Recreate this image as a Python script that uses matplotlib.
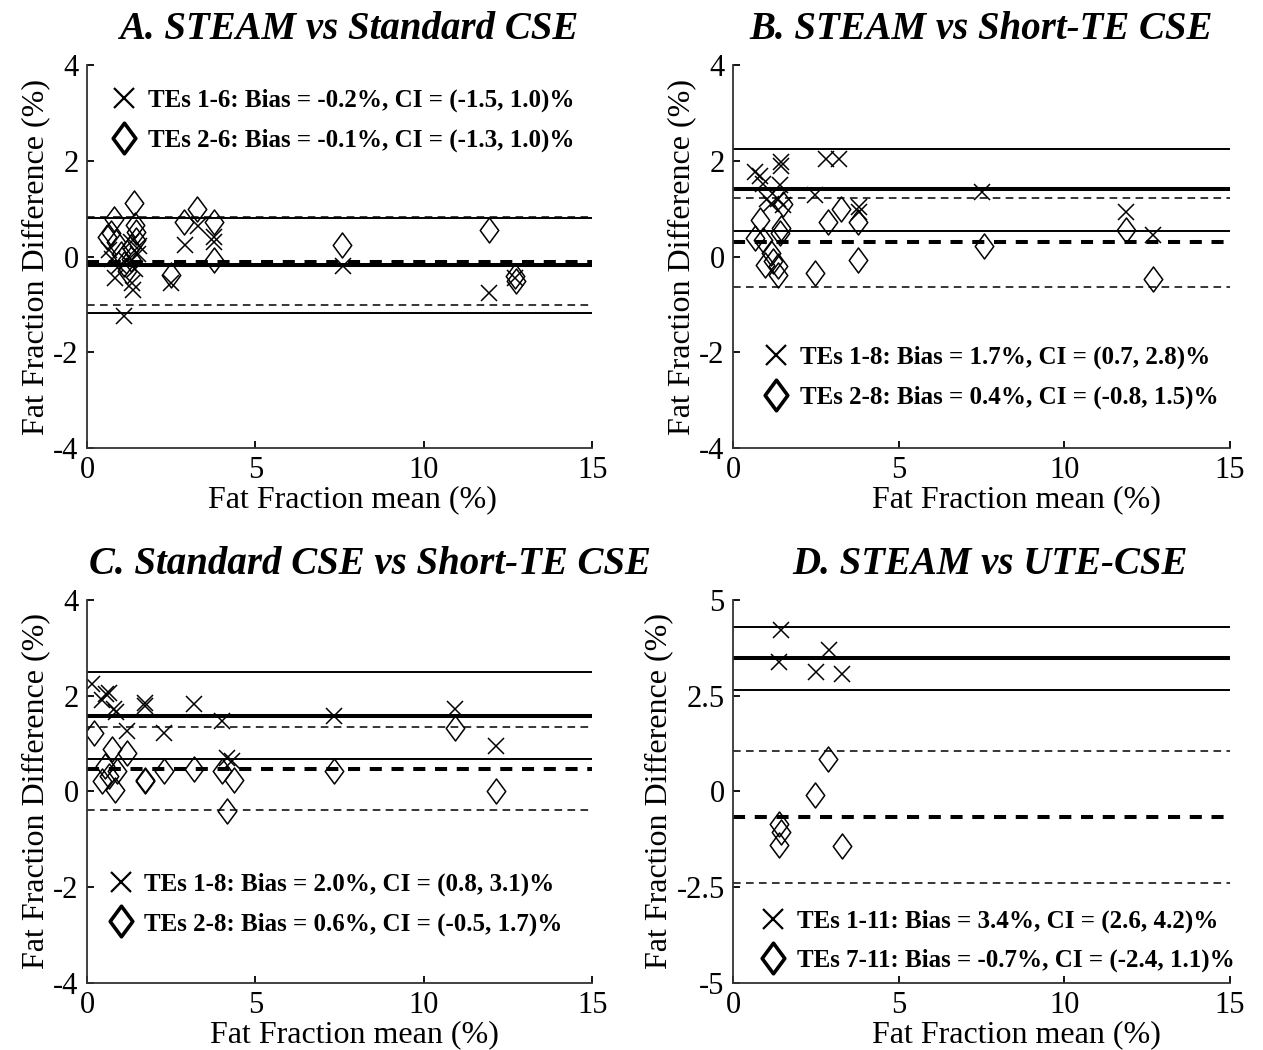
import matplotlib
matplotlib.use('Agg')
import matplotlib.pyplot as plt
from matplotlib.lines import Line2D
from matplotlib.path import Path

plt.rcParams['font.family'] = ['Liberation Serif', 'DejaVu Serif']

# A. STEAM vs Standard CSE
a_mean1 = [0.64, 0.75, 0.84, 0.95, 1.09, 1.2, 1.3, 1.35, 1.38, 1.43, 1.5, 1.53,
           2.5, 2.9, 3.3, 3.78, 3.78, 7.6, 11.93, 12.7]
a_diff1 = [0.14, -0.05, -0.44, -0.2, -1.24, -0.1, 0.3, -0.55, -0.69, -0.27, 0.05, 0.21,
           -0.56, 0.25, 0.64, 0.4, 0.3, -0.2, -0.76, -0.44]
a_mean2 = [0.6, 0.7, 0.79, 0.85, 1.0, 1.1, 1.2, 1.3, 1.39, 1.42, 1.44, 1.45, 1.3,
           2.48, 2.87, 3.27, 3.76, 3.76, 7.57, 11.93, 12.7, 12.75]
a_diff2 = [0.4, 0.5, 0.78, 0.3, 0.05, -0.15, -0.3, 0.2, 1.12, 0.65, 0.52, 0.35, -0.05,
           -0.38, 0.73, 1.0, 0.73, -0.07, 0.25, 0.56, -0.41, -0.51]
a_lines1 = [-1.17, -0.17, 0.81]
a_lines2 = [-1.02, -0.11, 0.82]
a_labels = ['TEs 1-6: Bias = -0.2%, CI = (-1.5, 1.0)%',
            'TEs 2-6: Bias = -0.1%, CI = (-1.3, 1.0)%']

# B. STEAM vs Short-TE CSE
b_mean1 = [0.66, 0.81, 0.91, 1.01, 1.46, 1.46, 1.41, 1.36, 1.51, 1.16,
           2.46, 2.81, 3.21, 3.81, 3.81, 7.51, 11.86, 12.66]
b_diff1 = [1.76, 1.69, 1.52, 1.21, 1.97, 1.9, 1.49, 1.21, 1.07, 1.1,
           1.28, 2.04, 2.04, 1.04, 0.93, 1.35, 0.92, 0.45]
b_mean2 = [0.66, 0.81, 0.91, 0.96, 1.16, 1.2, 1.36, 1.36, 1.46, 1.41, 1.5,
           2.46, 2.86, 3.26, 3.76, 3.76, 7.56, 11.86, 12.66]
b_diff2 = [0.38, 0.76, 0.35, -0.17, 0.07, -0.1, -0.2, -0.38, 0.59, 0.49, 1.1,
           -0.34, 0.73, 1.0, 0.73, -0.07, 0.21, 0.56, -0.48]
b_lines1 = [0.53, 1.40, 2.25]
b_lines2 = [-0.63, 0.30, 1.22]
b_labels = ['TEs 1-8: Bias = 1.7%, CI = (0.7, 2.8)%',
            'TEs 2-8: Bias = 0.4%, CI = (-0.8, 1.5)%']

# C. Standard CSE vs Short-TE CSE
c_mean1 = [0.15, 0.64, 0.45, 0.56, 0.79, 0.86, 1.19, 1.73, 1.73, 2.28, 3.17,
           4.01, 4.16, 4.31, 7.33, 10.94, 12.13]
c_diff1 = [2.24, 2.06, 1.92, 2.03, 1.72, 1.65, 1.26, 1.85, 1.79, 1.23, 1.82,
           1.47, 0.7, 0.63, 1.58, 1.72, 0.95]
c_mean2 = [0.2, 0.74, 1.19, 0.54, 0.45, 0.64, 0.84, 0.89, 1.73, 1.73, 2.28,
           3.17, 4.01, 4.36, 4.16, 7.33, 10.94, 12.13]
c_diff2 = [1.23, 0.88, 0.81, 0.53, 0.22, 0.32, 0.04, 0.43, 0.25, 0.22, 0.43,
           0.46, 0.43, 0.25, -0.41, 0.43, 1.33, 0.01]
c_lines1 = [0.67, 1.58, 2.50]
c_lines2 = [-0.38, 0.47, 1.35]
c_labels = ['TEs 1-8: Bias = 2.0%, CI = (0.8, 3.1)%',
            'TEs 2-8: Bias = 0.6%, CI = (-0.5, 1.7)%']

# D. STEAM vs UTE-CSE
d_mean1 = [1.46, 1.39, 2.91, 2.49, 3.29]
d_diff1 = [4.22, 3.39, 3.7, 3.13, 3.07]
d_mean2 = [2.86, 2.48, 1.39, 1.46, 1.39, 3.29]
d_diff2 = [0.86, -0.08, -0.84, -1.06, -1.4, -1.42]
d_lines1 = [2.65, 3.48, 4.29]
d_lines2 = [-2.39, -0.66, 1.06]
d_labels = ['TEs 1-11: Bias = 3.4%, CI = (2.6, 4.2)%',
            'TEs 7-11: Bias = -0.7%, CI = (-2.4, 1.1)%']

xticks = [0, 5, 10, 15]
yticks_4 = [-4, -2, 0, 2, 4]
yticks_5 = [-5, -2.5, 0, 2.5, 5]

# slightly tall diamond like MATLAB's 'd'
diamond = Path([(0, 1), (0.74, 0), (0, -1), (-0.74, 0), (0, 1)],
               [Path.MOVETO, Path.LINETO, Path.LINETO, Path.LINETO, Path.CLOSEPOLY])


def panel(ax, title, tx, m1, d1, m2, d2, lines1, lines2, labels, yticks,
          leg_anchor, xlab_x):
    ax.plot(m1, d1, ls='none', marker='x', ms=12, mew=1.1, color='k')
    ax.plot(m2, d2, ls='none', marker=diamond, ms=18, mew=1.1, mfc='none', mec='k')
    lo, mid, hi = lines1
    for v, lw in [(lo, 1.4), (mid, 2.9), (hi, 1.4)]:
        ax.plot([0, 15], [v, v], color='k', lw=lw, solid_capstyle='butt')
    lo, mid, hi = lines2
    ax.plot([0, 15], [lo, lo], color='k', lw=1.1, ls=(0, (5, 3.5)))
    ax.plot([0, 15], [mid, mid], color='k', lw=2.9, ls=(0, (3.0, 2.4)))
    ax.plot([0, 15], [hi, hi], color='k', lw=1.1, ls=(0, (5, 3.5)))

    ax.set_xlim(0, 15)
    ax.set_ylim(yticks[0], yticks[-1])
    ax.set_xticks(xticks)
    ax.set_yticks(yticks)
    ax.set_yticklabels([('%g' % t) for t in yticks])
    for s in ['top', 'right']:
        ax.spines[s].set_visible(False)
    for s in ['left', 'bottom']:
        ax.spines[s].set_linewidth(1.3)
        ax.spines[s].set_color('#333333')
    ax.tick_params(direction='in', length=5, width=1.3, labelsize=22, pad=6)
    ax.set_xlabel('Fat Fraction mean (%)', fontsize=23, x=xlab_x, labelpad=0)
    ax.set_ylabel('Fat Fraction Difference (%)', fontsize=23, labelpad=2)
    ax.set_title(title, fontsize=28, fontweight='bold', style='italic', x=tx, pad=19)

    h1 = Line2D([], [], ls='none', marker='x', ms=15, mew=1.6, color='k')
    h2 = Line2D([], [], ls='none', marker=diamond, ms=22, mew=2.6, mfc='none', mec='k')
    ax.legend([h1, h2], labels, loc='center left', bbox_to_anchor=leg_anchor,
              frameon=False, prop={'weight': 'bold', 'size': 18},
              handlelength=1.0, handletextpad=0.45, labelspacing=0.65,
              borderaxespad=0, borderpad=0)


fig = plt.figure(figsize=(12.63, 10.5), dpi=100)
axA = fig.add_axes([0.0689, 0.5733, 0.400, 0.3648])
axB = fig.add_axes([0.5804, 0.5733, 0.3935, 0.3648])
axC = fig.add_axes([0.0689, 0.0638, 0.400, 0.3648])
axD = fig.add_axes([0.5804, 0.0638, 0.3935, 0.3648])

panel(axA, 'A. STEAM vs Standard CSE', 0.517, a_mean1, a_diff1, a_mean2, a_diff2,
      a_lines1, a_lines2, a_labels, yticks_4, (0.048, 0.855), 0.525)
panel(axB, 'B. STEAM vs Short-TE CSE', 0.50, b_mean1, b_diff1, b_mean2, b_diff2,
      b_lines1, b_lines2, b_labels, yticks_4, (0.062, 0.184), 0.57)
panel(axC, 'C. Standard CSE vs Short-TE CSE', 0.56, c_mean1, c_diff1, c_mean2, c_diff2,
      c_lines1, c_lines2, c_labels, yticks_4, (0.042, 0.206), 0.53)
panel(axD, 'D. STEAM vs UTE-CSE', 0.517, d_mean1, d_diff1, d_mean2, d_diff2,
      d_lines1, d_lines2, d_labels, yticks_5, (0.056, 0.11), 0.57)

fig.savefig('out.png', dpi=100)
